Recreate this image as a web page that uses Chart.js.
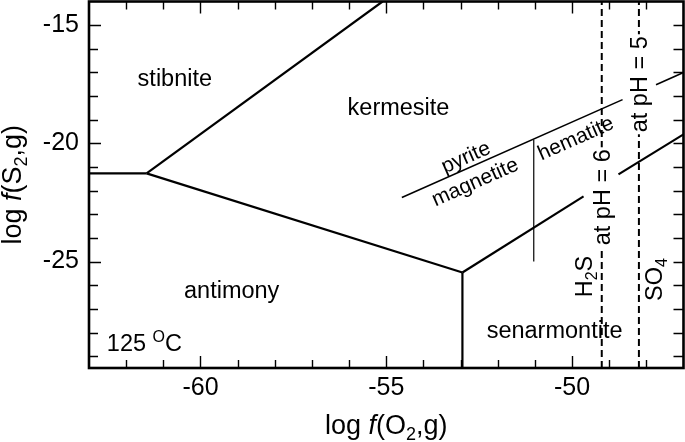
<!DOCTYPE html>
<html lang="en">
<head>
<meta charset="UTF-8">
<title>Sb-S-O diagram, 125 °C</title>
<script src="https://cdn.jsdelivr.net/npm/chart.js"></script>
<style>
  html, body { margin: 0; padding: 0; background: #fff; }
</style>
</head>
<body>
<canvas id="diagram" width="685" height="442"></canvas>
<script>
// axis ranges and labelled ticks
const xRange = [-63, -47];
const yRange = [-29.5, -14];
const xTickLabels = [-60, -55, -50];
const yTickLabels = [-25, -20, -15];

// phase boundaries, log f(O2) vs log f(S2); null = break in the line
const stibAntX = [-63, -61.45];
const stibAntY = [-21.27, -21.27];
const stibKermX = [-61.45, -55.1];
const stibKermY = [-21.27, -14];
const kermAntX = [-61.45, -52.95];
const kermAntY = [-21.27, -25.46];
const antSenX = [-52.95, -52.95];
const antSenY = [-25.46, -29.5];
const kermSenX = [-52.95, -49.69, null, -48.75, -47];
const kermSenY = [-25.46, -22.24, null, -21.31, -19.62];
const pyriteX = [-54.58, -48.64, null, -47.74, -47];
const pyriteY = [-22.29, -18.15, null, -17.52, -17.0];
const magHemX = [-51.03, -51.03];
const magHemY = [-19.85, -25.0];
const ph6X = [-49.2, -49.2];
const ph6Y = [-29.5, -14];
const ph5X = [-48.2, -48.2];
const ph5Y = [-29.5, -14];

const FONT = '"Liberation Sans", Arial, sans-serif';

// one dataset per unbroken run of points
function runs(xs, ys) {
  const out = [];
  let cur = [];
  xs.forEach((x, i) => {
    if (x === null || ys[i] === null) {
      if (cur.length) out.push(cur);
      cur = [];
    } else {
      cur.push({ x: x, y: ys[i] });
    }
  });
  if (cur.length) out.push(cur);
  return out;
}

const lineStyles = [
  { xs: stibAntX, ys: stibAntY, w: 2.2 },
  { xs: stibKermX, ys: stibKermY, w: 2.2 },
  { xs: kermAntX, ys: kermAntY, w: 2.2 },
  { xs: antSenX, ys: antSenY, w: 2.2 },
  { xs: kermSenX, ys: kermSenY, w: 2.2 },
  { xs: pyriteX, ys: pyriteY, w: 1.6 },
  { xs: magHemX, ys: magHemY, w: 1.2 },
  { xs: ph6X, ys: ph6Y, w: 2, dash: [7, 4] },
  { xs: ph5X, ys: ph5Y, w: 2, dash: [7, 4] },
];

const datasets = [];
lineStyles.forEach(s => {
  runs(s.xs, s.ys).forEach(d => {
    datasets.push({
      data: d,
      showLine: true,
      borderColor: '#000',
      borderWidth: s.w,
      borderDash: s.dash || [],
      pointRadius: 0,
      fill: false,
      tension: 0
    });
  });
});

// text placed on the diagram (anchor in data units)
const textLabels = [
  { parts: [['stibnite']], at: [-60.69, -17.21], size: 23.5 },
  { parts: [['kermesite']], at: [-54.67, -18.44], size: 23.5 },
  { parts: [['antimony']], at: [-59.16, -26.18], size: 23.5 },
  { parts: [['senarmontite']], at: [-50.47, -27.87], size: 23.5 },
  { parts: [['125 '], ['O', 'sup'], ['C']], at: [-62.52, -28.42], size: 23.5, align: 'left' },
  { parts: [['pyrite']], at: [-52.87, -20.55], size: 21, along: true },
  { parts: [['magnetite']], at: [-52.62, -21.6], size: 21, along: true },
  { parts: [['hematite']], at: [-49.91, -19.75], size: 21, along: true },
  { parts: [['H'], ['2', 'sub'], ['S']], at: [-49.69, -25.63], size: 23.5, angle: -90 },
  { parts: [['SO'], ['4', 'sub']], at: [-47.81, -25.76], size: 23.5, angle: -90 },
  { parts: [['at pH = 6']], at: [-49.2, -22.28], size: 23.5, angle: -90, bg: true },
  { parts: [['at pH = 5']], at: [-48.2, -17.5], size: 23.5, angle: -90, bg: true },
];

function fontFor(style, size) {
  if (style === 'sub' || style === 'sup') return Math.round(size * 0.68) + 'px ' + FONT;
  if (style === 'i') return 'italic ' + size + 'px ' + FONT;
  return size + 'px ' + FONT;
}

// draws mixed text (italic, sub, sup) centred on x,y
function drawRich(ctx, parts, x, y, size, angle, align, bg) {
  ctx.save();
  ctx.translate(x, y);
  ctx.rotate(angle);
  let w = 0;
  parts.forEach(p => { ctx.font = fontFor(p[1], size); w += ctx.measureText(p[0]).width; });
  let cx = align === 'left' ? 0 : -w / 2;
  if (bg) {
    ctx.fillStyle = '#fff';
    ctx.fillRect(cx - 2, -size * 0.5, w + 4, size);
  }
  ctx.fillStyle = '#000';
  ctx.textAlign = 'left';
  ctx.textBaseline = 'alphabetic';
  const base = size * 0.35;
  parts.forEach(p => {
    ctx.font = fontFor(p[1], size);
    let dy = 0;
    if (p[1] === 'sub') dy = size * 0.22;
    if (p[1] === 'sup') dy = -size * 0.36;
    ctx.fillText(p[0], cx, base + dy);
    cx += ctx.measureText(p[0]).width;
  });
  ctx.restore();
}

const decorations = {
  id: 'decorations',
  afterDatasetsDraw(chart) {
    const { ctx, chartArea: a, scales: { x, y } } = chart;

    // labels
    const pAng = Math.atan2(
      y.getPixelForValue(pyriteY[1]) - y.getPixelForValue(pyriteY[0]),
      x.getPixelForValue(pyriteX[1]) - x.getPixelForValue(pyriteX[0]));
    textLabels.forEach(l => {
      let ang = 0;
      if (l.along) ang = pAng;
      if (l.angle) ang = l.angle * Math.PI / 180;
      drawRich(ctx, l.parts, x.getPixelForValue(l.at[0]), y.getPixelForValue(l.at[1]),
        l.size, ang, l.align, l.bg);
    });

    // inward ticks on all four sides
    ctx.save();
    ctx.strokeStyle = '#000';
    ctx.lineWidth = 1.4;
    ctx.beginPath();
    for (let v = Math.ceil(x.min); v <= x.max; v++) {
      if (v === x.min || v === x.max) continue;
      const px = Math.round(x.getPixelForValue(v)) + 0.5;
      const len = v % 5 === 0 ? 12 : 8;
      ctx.moveTo(px, a.bottom); ctx.lineTo(px, a.bottom - len);
      ctx.moveTo(px, a.top); ctx.lineTo(px, a.top + len);
    }
    for (let v = Math.ceil(y.min); v <= y.max; v++) {
      if (v === y.min || v === y.max) continue;
      const py = Math.round(y.getPixelForValue(v)) + 0.5;
      const len = v % 5 === 0 ? 12 : 9;
      ctx.moveTo(a.left, py); ctx.lineTo(a.left + len, py);
      ctx.moveTo(a.right, py); ctx.lineTo(a.right - 10, py);
    }
    ctx.stroke();

    // frame
    ctx.lineWidth = 2.6;
    ctx.strokeRect(a.left, a.top, a.right - a.left, a.bottom - a.top);
    ctx.restore();

    // axis titles
    drawRich(ctx, [['log '], ['f', 'i'], ['(O'], ['2', 'sub'], [',g)']],
      (a.left + a.right) / 2, 425, 27, 0);
    drawRich(ctx, [['log '], ['f', 'i'], ['(S'], ['2', 'sub'], [',g)']],
      12, (a.top + a.bottom) / 2, 27, -Math.PI / 2);
  }
};

new Chart(document.getElementById('diagram'), {
  type: 'scatter',
  data: { datasets: datasets },
  options: {
    responsive: false,
    animation: false,
    layout: { padding: { left: 0, right: 1.5, top: 1.5, bottom: 0 } },
    plugins: { legend: { display: false }, tooltip: { enabled: false } },
    scales: {
      x: {
        type: 'linear',
        min: xRange[0],
        max: xRange[1],
        grid: { display: false, drawTicks: false },
        border: { display: false },
        ticks: { font: { family: FONT, size: 25 }, color: '#000', padding: 5 },
        afterBuildTicks: s => { s.ticks = xTickLabels.map(v => ({ value: v })); },
        afterFit: s => { s.height = 74; s.paddingLeft = 0; s.paddingRight = 0; }
      },
      y: {
        type: 'linear',
        min: yRange[0],
        max: yRange[1],
        grid: { display: false, drawTicks: false },
        border: { display: false },
        ticks: { font: { family: FONT, size: 25 }, color: '#000', padding: 10 },
        afterBuildTicks: s => { s.ticks = yTickLabels.map(v => ({ value: v })); },
        afterFit: s => { s.width = 89; s.paddingTop = 0; s.paddingBottom = 0; }
      }
    }
  },
  plugins: [decorations]
});
</script>
</body>
</html>
